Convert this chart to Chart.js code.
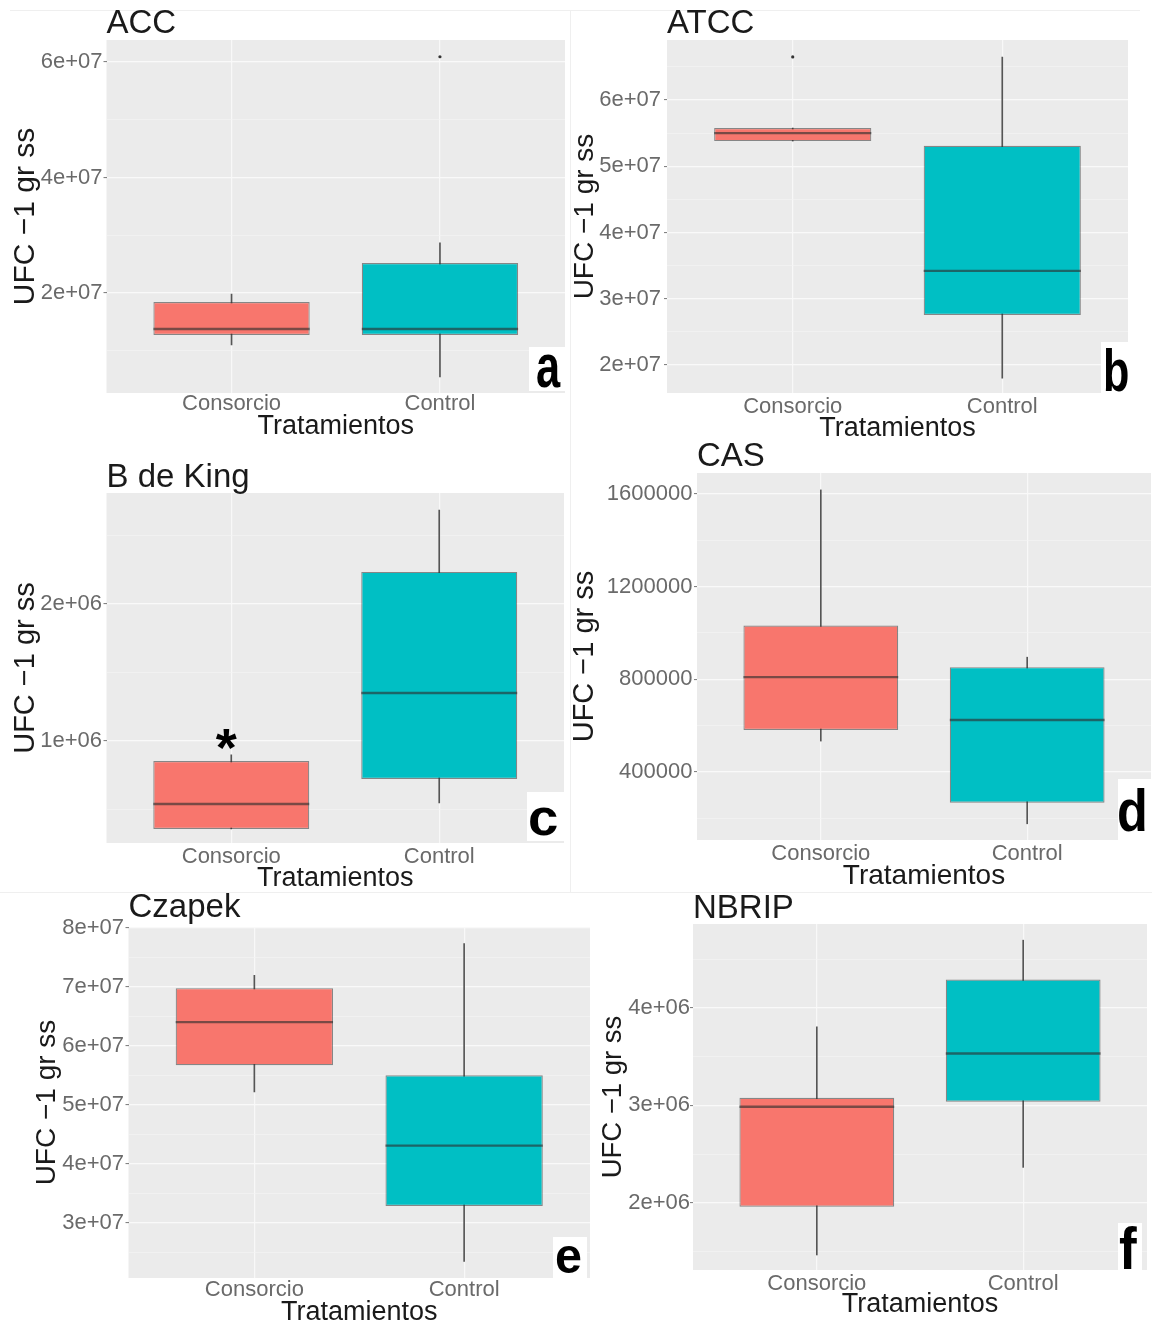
<!DOCTYPE html>
<html>
<head>
<meta charset="utf-8">
<title>UFC por tratamiento</title>
<script src="https://cdn.jsdelivr.net/npm/chart.js@4.4.1/dist/chart.umd.min.js"></script>
<style>
    body { margin: 0; background: #fff; }
    #page { position: relative; width: 1152px; height: 1329px; overflow: hidden; background: #fff; }
    #page canvas { position: absolute; }
    .tag { position: absolute; background: #fff; }
    .letter {
        position: absolute;
        font-family: 'Liberation Sans', Arial, sans-serif;
        font-weight: bold;
        line-height: 1;
        color: #000;
        white-space: nowrap;
        transform-origin: 0 0;
    }
    .rule { position: absolute; background: #efefef; }
</style>
</head>
<body>
<div id="page"></div>
<script>
// ---- data ----
const categories = ["Consorcio", "Control"];
const panelTitles = ["ACC", "ATCC", "B de King", "CAS", "Czapek", "NBRIP"];
const panelLetters = ["a", "b", "c", "d", "e", "f"];
const yTitle = "UFC \u22121 gr ss";
const xTitle = "Tratamientos";

// one row per panel, [Consorcio, Control]
const whiskerLow = [[1.10e7, 0.545e7], [5.38e7, 1.80e7], [0.358e6, 0.547e6], [5.33e5, 1.76e5], [5.22e7, 2.35e7], [1.464e6, 2.363e6]];
const q1 = [[1.273e7, 1.273e7], [5.38e7, 2.755e7], [0.358e6, 0.723e6], [5.81e5, 2.67e5], [5.67e7, 3.29e7], [1.959e6, 3.036e6]];
const median = [[1.377e7, 1.377e7], [5.50e7, 3.42e7], [0.54e6, 1.35e6], [8.09e5, 6.24e5], [6.40e7, 4.31e7], [2.985e6, 3.532e6]];
const q3 = [[1.844e7, 2.52e7], [5.577e7, 5.31e7], [0.854e6, 2.234e6], [1.032e6, 8.52e5], [6.975e7, 5.50e7], [3.077e6, 4.291e6]];
const whiskerHigh = [[1.98e7, 2.866e7], [5.577e7, 6.65e7], [0.898e6, 2.686e6], [1.617e6, 8.95e5], [7.19e7, 7.73e7], [3.805e6, 4.694e6]];
const outliers = [[[], [6.09e7]], [[6.65e7], []], [[], []], [[], []], [[], []], [[], []]];
const starMarks = [[], [], [0], [], [], []]; // categories flagged with "*"

const yMin = [0.268e7, 1.577e7, 0.255e6, 1.06e5, 2.07e7, 1.31e6];
const yMax = [6.38e7, 6.906e7, 2.81e6, 1.69e6, 8.01e7, 4.86e6];
const yTicks = [[2e7, 4e7, 6e7], [2e7, 3e7, 4e7, 5e7, 6e7], [1e6, 2e6], [4e5, 8e5, 1.2e6, 1.6e6], [3e7, 4e7, 5e7, 6e7, 7e7, 8e7], [2e6, 3e6, 4e6]];
const yTickLabels = [
    ["2e+07", "4e+07", "6e+07"],
    ["2e+07", "3e+07", "4e+07", "5e+07", "6e+07"],
    ["1e+06", "2e+06"],
    ["400000", "800000", "1200000", "1600000"],
    ["3e+07", "4e+07", "5e+07", "6e+07", "7e+07", "8e+07"],
    ["2e+06", "3e+06", "4e+06"]
];
const yMinorTicks = [[1e7, 3e7, 5e7], [2.5e7, 3.5e7, 4.5e7, 5.5e7, 6.5e7], [0.5e6, 1.5e6, 2.5e6], [2e5, 6e5, 1e6, 1.4e6], [2.5e7, 3.5e7, 4.5e7, 5.5e7, 6.5e7, 7.5e7], [1.5e6, 2.5e6, 3.5e6, 4.5e6]];

// ---- layout (page pixels) ----
const frames = [
    {cx: 0, cy: 0, cw: 570, ch: 450, L: 106.5, T: 40, R: 565, B: 393, titleMid: 23.5, yTitleMid: 26, yTitleSize: 30, xTitleMid: 427, xTitleSize: 27, xTickMid: 404, yTickGap: 1},
    {cx: 570, cy: 0, cw: 582, ch: 450, L: 667, T: 40, R: 1128, B: 393, titleMid: 24, yTitleMid: 585, yTitleSize: 28, xTitleMid: 429, xTitleSize: 27, xTickMid: 406.5, yTickGap: 3},
    {cx: 0, cy: 440, cw: 570, ch: 455, L: 106.5, T: 493, R: 564, B: 843, titleMid: 478, yTitleMid: 26, yTitleSize: 29, xTitleMid: 879, xTitleSize: 27, xTickMid: 856.5, yTickGap: 1.5},
    {cx: 570, cy: 430, cw: 582, ch: 465, L: 697, T: 473, R: 1151, B: 840, titleMid: 456.5, yTitleMid: 585, yTitleSize: 29, xTitleMid: 876.5, xTitleSize: 28, xTickMid: 853.5, yTickGap: 1.5},
    {cx: 0, cy: 885, cw: 600, ch: 444, L: 128.5, T: 927, R: 590, B: 1278, titleMid: 908, yTitleMid: 47, yTitleSize: 28, xTitleMid: 1312.5, xTitleSize: 27, xTickMid: 1290, yTickGap: 1.5},
    {cx: 590, cy: 880, cw: 562, ch: 449, L: 693, T: 924, R: 1147, B: 1270, titleMid: 909, yTitleMid: 613, yTitleSize: 27.5, xTitleMid: 1305, xTitleSize: 27, xTickMid: 1283.5, yTickGap: 0}
];
const letterBoxes = [
    {box: [529, 347, 36, 44], x: 536, base: 387, size: 62, sx: 0.7},
    {box: [1101, 342, 35, 52], x: 1103, base: 392, size: 60, sx: 0.72},
    {box: [527, 792, 38, 49], x: 528, base: 835, size: 52, sx: 1.05},
    {box: [1118, 779, 34, 61], x: 1117, base: 832, size: 60, sx: 0.84},
    {box: [553, 1237, 34, 41], x: 555, base: 1273, size: 50, sx: 0.97},
    {box: [1118, 1223, 24, 48], x: 1119, base: 1270, size: 59, sx: 0.9}
];

const fills = ["#F8766D", "#00BFC4"];
const panelBg = "#EBEBEB";
const tickGray = "#6a6a6a";
const ink = "#1a1a1a";

Chart.defaults.font.family = "'Liberation Sans', Arial, Helvetica, sans-serif";

const boxExtras = {
    id: "boxExtras",
    beforeDraw(chart) {
        const a = chart.chartArea;
        const ctx = chart.ctx;
        ctx.save();
        ctx.fillStyle = panelBg;
        ctx.fillRect(a.left, a.top, a.right - a.left, a.bottom - a.top);
        ctx.restore();
    },
    afterDatasetsDraw(chart, args, opts) {
        const p = opts.panel;
        const ctx = chart.ctx;
        const ys = chart.scales.y;
        const boxes = chart.getDatasetMeta(1).data;
        ctx.save();
        ctx.strokeStyle = "rgba(45,45,45,0.62)";
        ctx.lineWidth = 2.4;
        boxes.forEach((bar, i) => {
            const y = ys.getPixelForValue(median[p][i]);
            ctx.beginPath();
            ctx.moveTo(bar.x - bar.width / 2, y);
            ctx.lineTo(bar.x + bar.width / 2, y);
            ctx.stroke();
        });
        ctx.fillStyle = "#000";
        ctx.font = "bold 54px 'Liberation Sans', Arial, sans-serif";
        ctx.textAlign = "center";
        ctx.textBaseline = "alphabetic";
        for (const i of starMarks[p]) {
            const y = ys.getPixelForValue(whiskerHigh[p][i]);
            ctx.fillText("*", boxes[i].x - 5, y + 11);
        }
        ctx.restore();
    }
};

const page = document.getElementById("page");

function addRule(x, y, w, h) {
    const d = document.createElement("div");
    d.className = "rule";
    d.style.cssText = "left:" + x + "px;top:" + y + "px;width:" + w + "px;height:" + h + "px";
    page.appendChild(d);
}

function makePanel(p) {
    const f = frames[p];
    const canvas = document.createElement("canvas");
    canvas.width = f.cw;
    canvas.height = f.ch;
    canvas.style.left = f.cx + "px";
    canvas.style.top = f.cy + "px";
    page.appendChild(canvas);

    const xs = [1, 2];
    const boxData = xs.map((x, i) => ({x: x, y: [q1[p][i], q3[p][i]]}));
    const whiskerData = xs.map((x, i) => ({x: x, y: [whiskerLow[p][i], whiskerHigh[p][i]]}));
    const outlierData = [];
    outliers[p].forEach((vals, i) => vals.forEach(v => outlierData.push({x: xs[i], y: v})));

    const majors = yTicks[p].map((v, k) => ({value: v, txt: yTickLabels[p][k], minor: false}));
    const minors = yMinorTicks[p].map(v => ({value: v, txt: "", minor: true}));
    const allTicks = majors.concat(minors).sort((a, b) => a.value - b.value);

    const tlh = 33 * 0.9;

    new Chart(canvas, {
        type: "bar",
        data: {
            datasets: [
                {
                    type: "bar",
                    data: whiskerData,
                    backgroundColor: "#555555",
                    borderWidth: 0,
                    barThickness: 1,
                    grouped: false,
                    order: 3
                },
                {
                    type: "bar",
                    data: boxData,
                    backgroundColor: fills,
                    borderColor: "rgba(51,51,51,0.55)",
                    borderWidth: 1.2,
                    borderSkipped: false,
                    barPercentage: 0.75,
                    categoryPercentage: 1,
                    grouped: false,
                    order: 2
                },
                {
                    type: "scatter",
                    data: outlierData,
                    pointRadius: 1.6,
                    backgroundColor: "#333",
                    borderWidth: 0,
                    order: 1
                }
            ]
        },
        options: {
            responsive: false,
            animation: false,
            events: [],
            devicePixelRatio: 1,
            layout: {padding: {left: 0, top: 0, right: f.cx + f.cw - f.R, bottom: 0}},
            plugins: {
                legend: {display: false},
                tooltip: {enabled: false},
                title: {
                    display: true,
                    text: panelTitles[p],
                    align: "start",
                    fullSize: false,
                    color: ink,
                    font: {size: 33, weight: "normal", lineHeight: 0.9},
                    padding: {top: f.titleMid - f.cy - tlh / 2, bottom: f.T - f.titleMid - tlh / 2}
                },
                boxExtras: {panel: p}
            },
            scales: {
                x: {
                    type: "linear",
                    min: 0.4,
                    max: 2.6,
                    offset: false,
                    bounds: "data",
                    afterBuildTicks: s => { s.ticks = xs.map(v => ({value: v})); },
                    afterFit: s => { s.height = f.cy + f.ch - f.B; },
                    border: {display: false},
                    grid: {color: "#f8f8f8", lineWidth: 1.2, drawTicks: false, offset: false},
                    ticks: {
                        autoSkip: false,
                        maxRotation: 0,
                        padding: f.xTickMid - f.B - 11,
                        color: tickGray,
                        font: {size: 22, lineHeight: 1},
                        callback: v => categories[Math.round(v) - 1]
                    },
                    title: {
                        display: true,
                        text: xTitle,
                        color: ink,
                        font: {size: f.xTitleSize, lineHeight: 1},
                        padding: {top: 0, bottom: f.cy + f.ch - f.xTitleMid - f.xTitleSize / 2}
                    }
                },
                y: {
                    min: yMin[p],
                    max: yMax[p],
                    beginAtZero: false,
                    bounds: "data",
                    afterBuildTicks: s => { s.ticks = allTicks.map(t => Object.assign({}, t)); },
                    afterFit: s => { s.width = f.L - f.cx; },
                    border: {display: false},
                    grid: {
                        color: c => (c.tick && c.tick.minor ? "#f3f3f3" : "#f9f9f9"),
                        lineWidth: c => (c.tick && c.tick.minor ? 0.7 : 1.2),
                        tickLength: 3,
                        tickWidth: 1,
                        tickColor: c => (c.tick && c.tick.minor ? "rgba(0,0,0,0)" : "#777")
                    },
                    ticks: {
                        autoSkip: false,
                        padding: f.yTickGap,
                        color: tickGray,
                        font: {size: 22},
                        callback: (v, i, t) => t[i].txt
                    },
                    title: {
                        display: true,
                        text: yTitle,
                        color: ink,
                        font: {size: f.yTitleSize, lineHeight: 1},
                        padding: {top: f.yTitleMid - f.cx - f.yTitleSize / 2, bottom: 0}
                    }
                }
            }
        },
        plugins: [boxExtras]
    });
}

// faint tile borders of the composed figure
addRule(10, 10, 1130, 1);
addRule(570, 10, 1, 882);
addRule(0, 892, 1152, 1);

for (let p = 0; p < 6; p++) makePanel(p);

letterBoxes.forEach((lb, p) => {
    const box = document.createElement("div");
    box.className = "tag";
    box.style.cssText = "left:" + lb.box[0] + "px;top:" + lb.box[1] + "px;width:" + lb.box[2] + "px;height:" + lb.box[3] + "px";
    page.appendChild(box);
    const t = document.createElement("div");
    t.className = "letter";
    t.textContent = panelLetters[p];
    t.style.fontSize = lb.size + "px";
    t.style.left = lb.x + "px";
    t.style.top = (lb.base - 0.8465 * lb.size) + "px";
    t.style.transform = "scaleX(" + lb.sx + ")";
    page.appendChild(t);
});
</script>
</body>
</html>
